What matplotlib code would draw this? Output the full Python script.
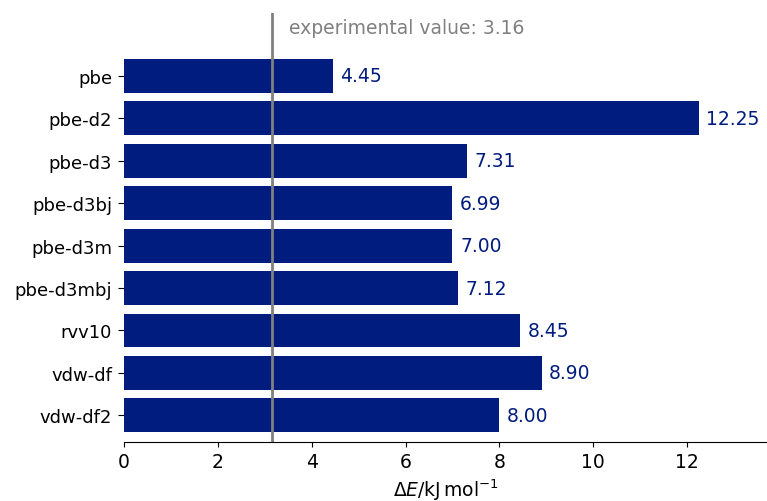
import matplotlib
matplotlib.use("Agg")
import matplotlib.pyplot as plt

# Interaction energies for each functional
functionals = ["pbe", "pbe-d2", "pbe-d3", "pbe-d3bj", "pbe-d3m", "pbe-d3mbj",
               "rvv10", "vdw-df", "vdw-df2"]
energies = [4.45, 12.25, 7.31, 6.99, 7.00, 7.12, 8.45, 8.90, 8.00]
experimental = 3.16

bar_color = "#001c7f"
fs = 13.5

fig = plt.figure(figsize=(7.67, 5.02), dpi=100)
ax = fig.add_axes([0.1617, 0.1175, 0.838, 0.855])

positions = list(range(len(functionals)))
ax.barh(positions, energies, height=0.8, color=bar_color)
for pos, val in zip(positions, energies):
    ax.annotate(f"{val:.2f}", (val, pos), xytext=(5.5, 0),
                textcoords="offset points", va="center", ha="left",
                color=bar_color, fontsize=fs)

ax.axvline(experimental, color="gray", lw=2)
ax.text(experimental + 0.35, -1.14, f"experimental value: {experimental}",
        color="gray", fontsize=fs, va="center", ha="left")

ax.set_yticks(positions)
ax.set_yticklabels(functionals, fontsize=13)
ax.tick_params(axis="y", length=4.5, pad=4)
ax.tick_params(axis="x", labelsize=fs)
ax.set_ylim(8.63, -1.49)
ax.set_xlim(0, 13.7)
ax.set_xticks([0, 2, 4, 6, 8, 10, 12])
ax.set_xlabel(r"$\Delta E$/kJ$\,$mol$^{-1}$", fontsize=fs)

for side in ["top", "right", "left"]:
    ax.spines[side].set_visible(False)

fig.savefig("out.png", dpi=100)
